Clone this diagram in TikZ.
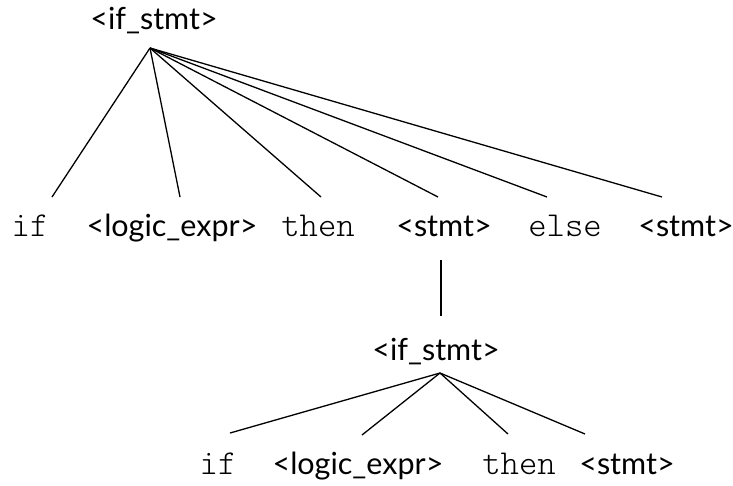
\documentclass[tikz,border=0pt]{standalone}
\usepackage{fontspec}
\setmainfont{Lato}
\newfontfamily\lightmono{Latin Modern Mono Light}
\begin{document}
\begin{tikzpicture}[x=1pt,y=-1pt,
  nt/.style={inner sep=0pt,anchor=base,font=\fontsize{30.5}{34}\selectfont},
  tm/.style={inner sep=0pt,anchor=base,font=\lightmono\fontsize{35}{38}\selectfont},
  edge/.style={line width=1.3pt}]
\useasboundingbox (0,0) rectangle (733,485);
% top tree
\node[nt] (root) at (154,29) {<if\_stmt>};
\coordinate (apex) at (150,48);
\node[tm] (if1) at (30,236) {if};
\node[nt] (le1) at (172,236) {<logic\_expr>};
\node[tm] (then1) at (318,236) {then};
\node[nt] (st1) at (444,236) {<stmt>};
\node[tm] (else1) at (565,236) {else};
\node[nt] (st2) at (686,236) {<stmt>};
\coordinate (e1) at (52,197);
\coordinate (e2) at (180,197);
\coordinate (e3) at (321,197);
\coordinate (e4) at (438,197);
\coordinate (e5) at (547,197);
\coordinate (e6) at (662,197);
\foreach \e in {e1,e2,e3,e4,e5,e6} \draw[edge] (apex) -- (\e);
% link
\coordinate (v1) at (441,260);
\coordinate (v2) at (441,316);
\draw[edge] (v1) -- (v2);
% sub tree
\node[nt] (root2) at (436,360) {<if\_stmt>};
\coordinate (apex2) at (440,373);
\node[tm] (if2) at (218,474) {if};
\node[nt] (le2) at (358,474) {<logic\_expr>};
\node[tm] (then2) at (519,474) {then};
\node[nt] (st3) at (627,474) {<stmt>};
\coordinate (f1) at (230,433);
\coordinate (f2) at (362,435);
\coordinate (f3) at (508,434);
\coordinate (f4) at (585,434);
\foreach \f in {f1,f2,f3,f4} \draw[edge] (apex2) -- (\f);
\end{tikzpicture}
\end{document}
